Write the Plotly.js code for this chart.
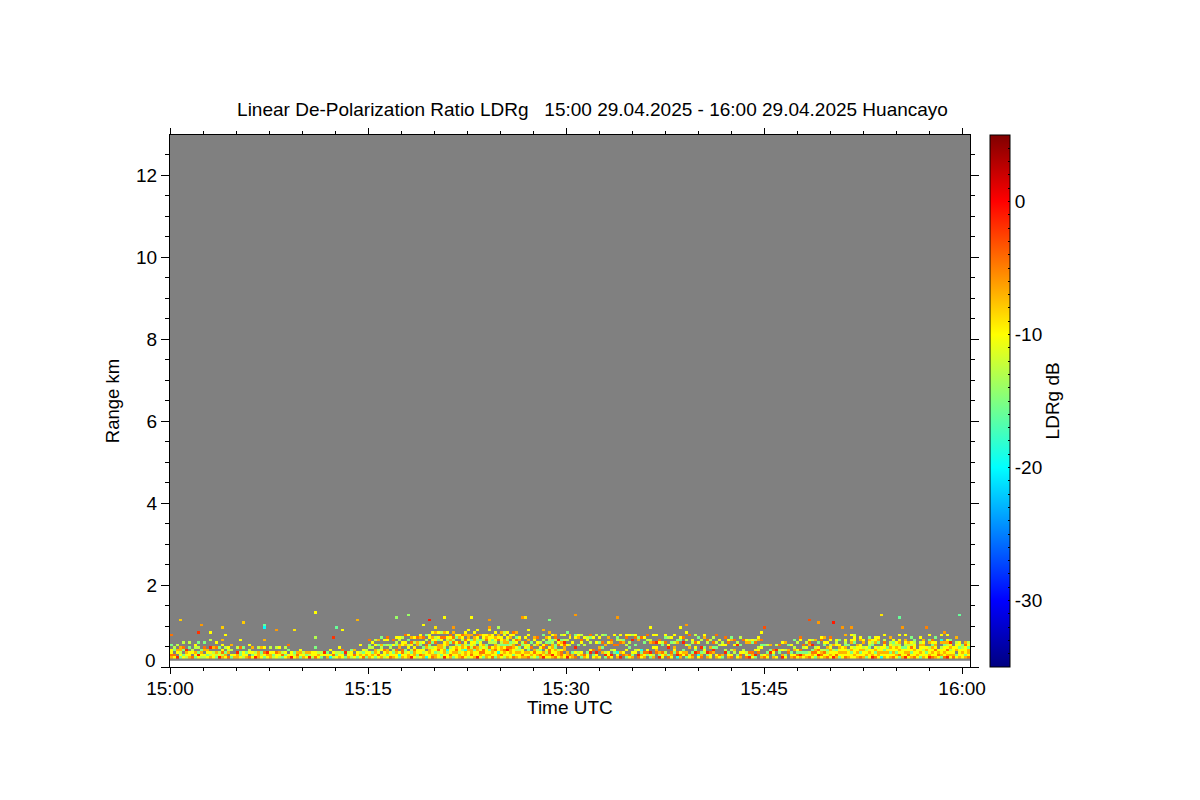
<!DOCTYPE html>
<html>
<head>
<meta charset="utf-8">
<script src="https://cdn.plot.ly/plotly-3.0.1.min.js"></script>
<style>html,body{margin:0;padding:0;background:#fff}</style>
</head>
<body>
<div id="chart" style="width:1200px;height:800px"></div>
<script>
const codeChars = ['b','c','g','l','y','o','a','r','d'];
const codeValues = [-28,-19,-15,-12.5,-10,-7,-4.5,-1.5,2];

// one token per time column, lowest range gate first; '.' = no echo
const quarter1 = (
"oayy.g...a ya.gl r.yo.l gyloo yg.ga.l lyor oyy.g.l a.yl gyo.ly yrg.l.g " +
"lyog ly.oa.g ygyo oly.r..l yyl.o glo.a.y ryl.g olay.y.o yog.l a.oly " +
"gy.l.o oy oor.l ygg.a..y lyy.g oyg a.yl.y ygy.o ryl ooo.l " +
"ylg.o gya.y..o yor ooy.l lgy yya.l lyo.y gal ygy.l oy.g.a " +
"ryy ylg oao gyoy oyl ygo rlo lyy ayy.g yol " +
"gyl .yr oyg cy.y lay ygl oyl.y yyga g.r oyl " +
"lyyg ya.o gyy yol..y aygy goyl"
).split(' ');

const quarter2 = (
"oyy.lg.a yog.l.y gyoo.y.l yayl.g.o oy.ylo..g lyya.g.y ygoo.l.ya ayy.lg oygl.y.a yyoa.gl.y " +
"gcy.oo.ly oyaa.yy.l yylg.oy..a ooy.yl.g.y rygl.ya.o yooay.l.y lgyy.oo.a yayy.gl.oy oolyg.y.a cyy.oa.l.g " +
"yyoolga.yy aoyyl.gyo.y oogyy.ayl.o yylaoo.gy.y lgyyoo.ya.l ryoolyy.a.o yygc.ooly.y oayyl.goya gyoyy.ala.o yyoaoly.gy " +
"oolyyga.oy ayygoo.lya yoocylya.oy lyyoag.yoo.y yaoolyyg.o oyygalyoo.y ryyoo.glya.y yoaylyyg.o gyaayo.lyy ooyylg.aoy " +
"yoyga.lyyo.y ayooy.lgyy gyyaoolyo.y oocyyl.ayo yayooglyy.o lyoaygoo.yl oyyragoly.y yyooalg.oy agyyooly.ya oyoly.yag.o " +
"yyolga.oy oayy.gl oyo.yla.y ayogly.o.y loy.a.g yyao.l.yo goyl.oy.a oaygy.l ryo.ay.l.g yoly.ag.o " +
"yoaay.gly.o oryyoolg.y ayyogg.lao yool.ayr oaay.yog.l yy.ooarl.y"
).split(' ');

const quarter3 = (
"roo..y.l..g ya...l..yo oog...y a.y.r...yg .yl..g..oy goy...ya.l oa...l..y yyg....yl ..ry..l.ga yg.a....y " +
"oyr...y..l y..ao.g.y ..o.g.a..l grl..o...g ayy...y.o yr.l..oa ..gy.a...y oyc..a.lg r.o...al.y .ay...og " +
"go.y.l..ay ya..g.l..y ogy....r.l ..yl.g..ay ar.y...og yogc....a oya...g.y .gay...l.a gyr...ol ol..y.a..y " +
"..aoy.r..y rgo...ya yya..gl .ol...a.gy ag..ry..l yoa...g.y ..gyo.l..y cra...og oay....gy .yog..r.a " +
"gao..y.l..y yl..og...a oag...ly ..rgy.a..l yca...y.g aog.r..l ..lyg...oy ogr...la yya.o..l ..org.a.l " +
"oy..g.l..a ya...l.y go...yl ..rl.y..a oyg...ay ay.l...og ..lo.y.a yg...rl oay..g..l ..yl...a " +
"ayl...oy rga...ol yoa...gy gr.y..al ..ayl..oy ol..yg.a"
).split(' ');

const quarter4 = (
"ay...g yog..l ..rg.o ogya y..r.l ..gl.a ro.y..y yg.l..o ..ao.g oyg..y " +
"ay.ol..g yagy..l orga...ya yog.la oyg.y.l ayl..oay yoag.r.l gyaol..o oryay.g yaol...ay " +
"oyal.gy.o aylgo.y yoyoyl.ya ryyl.o oayg.yly gyoyoy.g yyoyy ayoyogly.o oyyl.g yygoy.oy.y " +
"yoyyl.gyyl oyoyyo aygoyy.oy oyyol.oy goyly yyoyglyog royy.gly aygoy.oyy yooyl.goy cyoyy " +
"oyogyyal.y yyoyg oygyoyl.o ayoyylgy yogyoly gayoyloy.y oyyyg ryoyglyo.y yaoyylo oygyaly.g " +
"ayyoyylg yoyy gyoyyol.y oyylyoyo yygoy royyl.og.y ayoyogya oyyayoy.g yaoy goyyl.oc.y " +
"ayoyygo royayloy.y yoyloyrg aoyyy yg.oyyl.o oyyygyy yyoylg ogyyyao ayoogyl"
).split(' ');

// isolated echoes above the main band
const strayMinute = [0.85,2.36,2.16,3.06,3.97,4.25,5.56,7.23,7.05,8.11,9.42,10.93,14.19,17.11,18.02,19.56,19.26,20.09,12.98,12.6,12.45,11.0,20.77,22.74,24.1,26.57,26.82,28.71,30.66,33.86,21.37,24.25,24.93,20.16,27.12,28.33,36.5,38.78,39.08,48.46,49.14,50.2,53.98,55.19,59.88,55.57,57.24,44.98,50.88,51.71,44.9,58.75];
const strayKm     = [1.15,1.0,0.85,0.85,0.95,0.76,1.1,1.02,0.96,0.91,0.9,1.32,1.15,1.2,1.25,1.15,1.0,0.95,0.88,0.95,0.74,0.74,1.2,1.2,1.15,1.2,1.22,1.17,1.24,1.2,0.98,0.98,0.98,0.98,0.9,0.88,0.98,0.98,1.02,1.13,1.08,1.05,1.25,1.22,1.29,0.98,0.98,0.95,0.98,0.98,0.83,0.85];
const strayDb     = [-8,-6,-2,-10,-8,-10,-8,-16,-20,-6,-9,-10,-7,-14,-14,-1,-10,-10,-10,-16,-2,-13,-10,-10,-6,-6,-9,-15,-6,-6,-6,-6,-13,-9,-10,-7,-10,-10,-6,-3,-6,-1,-9,-16,-16,-6,-5,-3,-6,-6,-10,-6];

const tickMinutes = [0,15,30,45,60];
const tickTimes = ['15:00','15:15','15:30','15:45','16:00'];
const tickKm = [0,2,4,6,8,10,12];
const tickKmLabels = ['','2','4','6','8','10','12'];
const barTicks = [-35,-34,-33,-32,-31,-30,-29,-28,-27,-26,-25,-24,-23,-22,-21,-20,-19,-18,-17,-16,-15,-14,-13,-12,-11,-10,-9,-8,-7,-6,-5,-4,-3,-2,-1,0,1,2,3,4,5];
const barLabels = barTicks.map(v => (v % 10 === 0 ? String(v) : ''));

const minutesPerCol = 3 / 13.217;
const kmPerRow = 2.5 / 41;
const firstRowKm = 9.25 / 41;
const nRows = 21;
const columns = quarter1.concat(quarter2, quarter3, quarter4);
const nCols = Math.ceil(60.6 / minutesPerCol);
const z = Array.from({length: nRows}, () => new Array(nCols).fill(null));
columns.forEach((tok, c) => {
  if (c >= nCols) return;
  for (let r = 0; r < tok.length && r < nRows; r++) {
    const k = codeChars.indexOf(tok[r]);
    if (k >= 0) z[r][c] = codeValues[k];
  }
});
strayMinute.forEach((m, i) => {
  const c = Math.floor(m / minutesPerCol);
  const r = Math.round((strayKm[i] - firstRowKm) / kmPerRow);
  if (r >= 0 && r < nRows && c < nCols) z[r][c] = strayDb[i];
});

const jet = [[0,'#000080'],[0.125,'#0000ff'],[0.375,'#00ffff'],[0.5,'#80ff80'],[0.625,'#ffff00'],[0.875,'#ff0000'],[1,'#800000']];
const fontFam = '"Liberation Sans", Arial, sans-serif';
const fs = 19;

const trace = {
  type: 'heatmap', z: z, x0: minutesPerCol / 2, dx: minutesPerCol, y0: firstRowKm, dy: kmPerRow,
  zmin: -35, zmax: 5, colorscale: jet, zsmooth: false, hoverongaps: false,
  colorbar: {
    thickness: 20, thicknessmode: 'pixels', len: 1, lenmode: 'fraction', y: 0.5, yanchor: 'middle',
    x: (991 - 169.5) / 801, xanchor: 'left', xpad: 0, ypad: 0,
    outlinewidth: 1, outlinecolor: '#000', borderwidth: 0,
    tickmode: 'array', tickvals: barTicks, ticktext: barLabels, ticks: 'inside', ticklen: 2, tickwidth: 1, tickcolor: '#000',
    tickfont: {family: fontFam, size: fs, color: '#000'}
  }
};

const axisCommon = {showgrid: false, zeroline: false, showline: true, linecolor: '#000', linewidth: 1, mirror: 'allticks', ticks: 'outside', tickcolor: '#000', tickwidth: 1, tickfont: {family: fontFam, size: fs, color: '#000'}};

const layout = {
  width: 1200, height: 800, autosize: false,
  paper_bgcolor: '#fff', plot_bgcolor: '#fff', showlegend: false,
  margin: {l: 169.5, r: 229.5, t: 135, b: 132.7, pad: 0},
  font: {family: fontFam, size: fs, color: '#000'},
  title: {text: 'Linear De-Polarization Ratio LDRg\u00A0\u00A0\u00A015:00 29.04.2025 - 16:00 29.04.2025 Huancayo', x: (592.5) / 1200, xanchor: 'center', y: 1 - 109 / 800, yanchor: 'middle', font: {family: fontFam, size: fs, color: '#000'}},
  xaxis: Object.assign({}, axisCommon, {range: [0, 60.6], tickmode: 'array', tickvals: tickMinutes, ticktext: tickTimes, ticklen: 6, ticklabelstandoff: -2, minor: {dtick: 2.5, ticks: 'outside', ticklen: 3, tickcolor: '#000', tickwidth: 1, showgrid: false}}),
  yaxis: Object.assign({}, axisCommon, {range: [0, 12.98], tickmode: 'array', tickvals: tickKm, ticktext: tickKmLabels, ticklen: 8, minor: {dtick: 0.5, ticks: 'outside', ticklen: 4, tickcolor: '#000', tickwidth: 1, showgrid: false}, title: {text: 'Range km', standoff: 11, font: {family: fontFam, size: 18.5, color: '#000'}}}),
  shapes: [{type: 'rect', xref: 'x', yref: 'y', x0: 0, x1: 60.6, y0: 0.155, y1: 12.98, fillcolor: '#808080', line: {width: 0}, layer: 'below'}],
  annotations: [
    {text: '0', xref: 'paper', yref: 'y', x: 0, y: 0.15, xanchor: 'right', yanchor: 'middle', xshift: -12, showarrow: false, font: {family: fontFam, size: fs, color: '#000'}},
    {text: 'Time UTC', xref: 'paper', yref: 'paper', x: (569.5 - 169.5) / 801, y: -(708 - 667.3) / 532.3, xanchor: 'center', yanchor: 'middle', showarrow: false, font: {family: fontFam, size: fs, color: '#000'}},
    {text: 'LDRg dB', xref: 'paper', yref: 'paper', x: (1053 - 169.5) / 801, y: 0.5, xanchor: 'center', yanchor: 'middle', textangle: -90, showarrow: false, font: {family: fontFam, size: fs, color: '#000'}}
  ]
};

Plotly.newPlot('chart', [trace], layout, {displayModeBar: false, staticPlot: true});
</script>
</body>
</html>
